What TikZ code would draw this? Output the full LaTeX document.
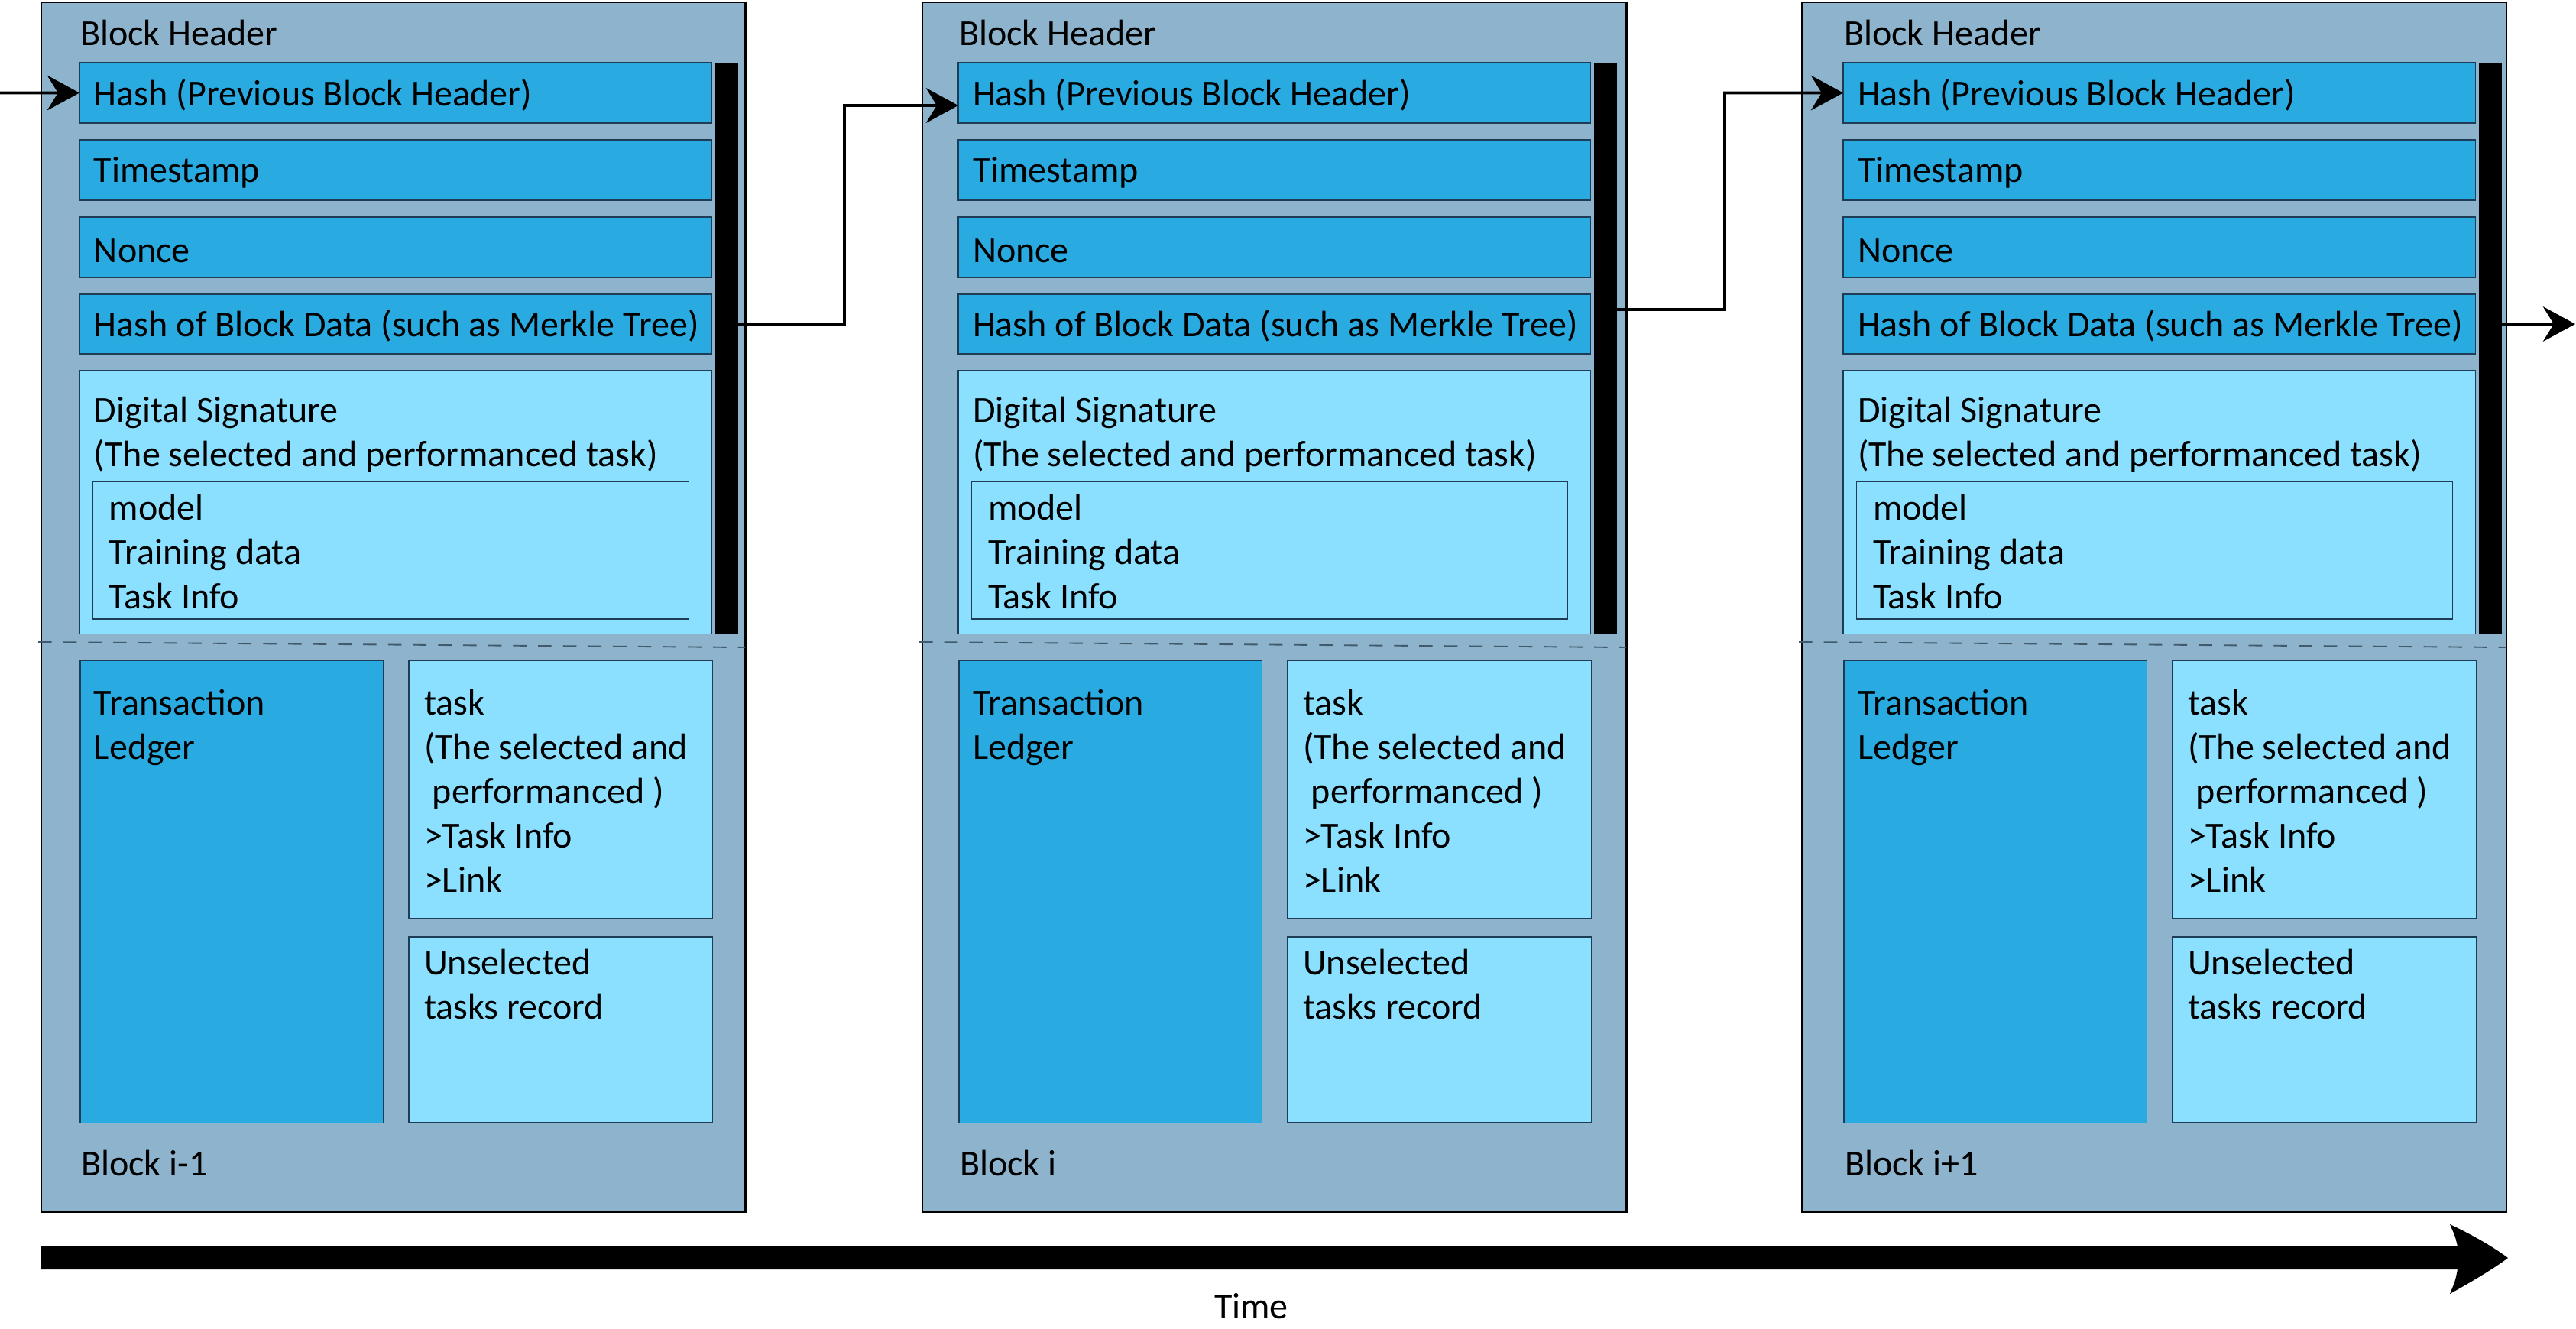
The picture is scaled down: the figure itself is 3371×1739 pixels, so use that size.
\documentclass[tikz,border=0pt]{standalone}
\usepackage{fontspec}
\setmainfont{Carlito}
\usetikzlibrary{arrows.meta}
\definecolor{blockfill}{RGB}{142,179,204}
\definecolor{darkfill}{RGB}{41,171,226}
\definecolor{lightfill}{RGB}{140,224,255}
\definecolor{boxline}{RGB}{30,60,85}
\definecolor{dashcol}{RGB}{65,90,108}
\tikzset{
  blockbox/.style={draw=black, line width=0.6pt, fill=blockfill, inner sep=0, outer sep=0, anchor=north west},
  darkbox/.style={draw=boxline, line width=0.4pt, fill=darkfill, inner sep=0, outer sep=0, anchor=north west},
  lightbox/.style={draw=boxline, line width=0.4pt, fill=lightfill, inner sep=0, outer sep=0, anchor=north west},
  barbox/.style={fill=black, inner sep=0, outer sep=0, anchor=north west},
  txt/.style={anchor=base west, inner sep=0, outer sep=0, font=\fontsize{13.66pt}{16.5pt}\selectfont},
  sepline/.style={draw=dashcol, line width=0.55pt, dash pattern=on 5pt off 4.3pt},
  conn/.style={draw=black, line width=1.05pt, -{Stealth[length=12pt,width=13pt,inset=4pt]}},
}
\newcommand\ml[1]{\begin{tabular}[t]{@{}l@{}}#1\end{tabular}}
\newcommand\blk[4]{%
\begin{scope}[shift={(#1,0)}]
  \node[blockbox, minimum width=9.21cm, minimum height=15.82cm] (blk#2) at (0,3) {};
  \draw[sepline] (-4,840) -- (921,847);
\end{scope}
\begin{scope}[shift={(#1+#4,0)}]
  \node[txt] (bh#2) at (51,59) {Block Header};
  \node[darkbox, minimum width=8.27cm, minimum height=0.79cm] (h#2) at (50,82) {};
  \node[txt] (th#2) at (69,138) {Hash (Previous Block Header)};
  \node[darkbox, minimum width=8.27cm, minimum height=0.79cm] (ts#2) at (50,183) {};
  \node[txt] (tts#2) at (69,238) {Timestamp};
  \node[darkbox, minimum width=8.27cm, minimum height=0.79cm] (no#2) at (50,284) {};
  \node[txt] (tno#2) at (69,343) {Nonce};
  \node[darkbox, minimum width=8.27cm, minimum height=0.78cm] (hd#2) at (50,385) {};
  \node[txt] (thd#2) at (69,440) {Hash of Block Data (such as Merkle Tree)};
  \node[lightbox, minimum width=8.27cm, minimum height=3.44cm] (ds#2) at (50,485) {};
  \node[txt] (tds#2) at (69,552) {\ml{Digital Signature\\(The selected and performanced task)}};
  \node[lightbox, minimum width=7.795cm, minimum height=1.80cm] (in#2) at (67.5,630) {};
  \node[txt] (tin#2) at (89,680) {\ml{model\\Training data\\Task Info}};
  \node[barbox, minimum width=0.30cm, minimum height=7.47cm] (bar#2) at (882,82) {};
  \node[darkbox, minimum width=3.96cm, minimum height=6.05cm] (tl#2) at (51,864) {};
  \node[txt] (ttl#2) at (69,935) {\ml{Transaction\\Ledger}};
  \node[lightbox, minimum width=3.97cm, minimum height=3.37cm] (tk#2) at (481,864) {};
  \node[txt] (ttk#2) at (501,935) {\ml{task\\(The selected and\\\hspace{3.1pt}performanced )\\>Task Info\\>Link}};
  \node[lightbox, minimum width=3.97cm, minimum height=2.43cm] (us#2) at (481,1226) {};
  \node[txt] (tus#2) at (501,1275) {\ml{Unselected\\tasks record}};
  \node[txt] (lb#2) at (52,1538) {#3};
\end{scope}}
\begin{document}
\begin{tikzpicture}[x=0.01cm,y=-0.01cm]
\useasboundingbox[fill=white] (0,0) rectangle (3371,1739);
\blk{54}{1}{Block i-1}{0}
\blk{1207}{2}{Block i}{-3}
\blk{2358}{3}{Block i+1}{4}
% connectors
\coordinate (in0) at (0,121.5);
\draw[conn] (in0) -- (h1.west);
\coordinate (c1a) at (1105,424);
\coordinate (c1b) at (1105,138);
\draw[conn] (bar1.east |- c1a) -- (c1a) -- (c1b) -- (h2.west |- c1b);
\coordinate (c2a) at (2257,405);
\coordinate (c2b) at (2257,121.5);
\draw[conn] (bar2.east |- c2a) -- (c2a) -- (c2b) -- (h3.west);
\coordinate (out3) at (3370,424);
\draw[conn] (bar3.east |- out3) -- (out3);
% time arrow
\fill[black] (54,1631) -- (3216,1631) .. controls (3213,1618) .. (3206,1602)
  .. controls (3240,1618) and (3266,1634) .. (3282,1646)
  .. controls (3266,1658) and (3240,1674) .. (3206,1693)
  .. controls (3213,1676) .. (3216,1661) -- (54,1661) -- cycle;
\node[txt] (time) at (1589,1725) {Time};
\end{tikzpicture}
\end{document}
